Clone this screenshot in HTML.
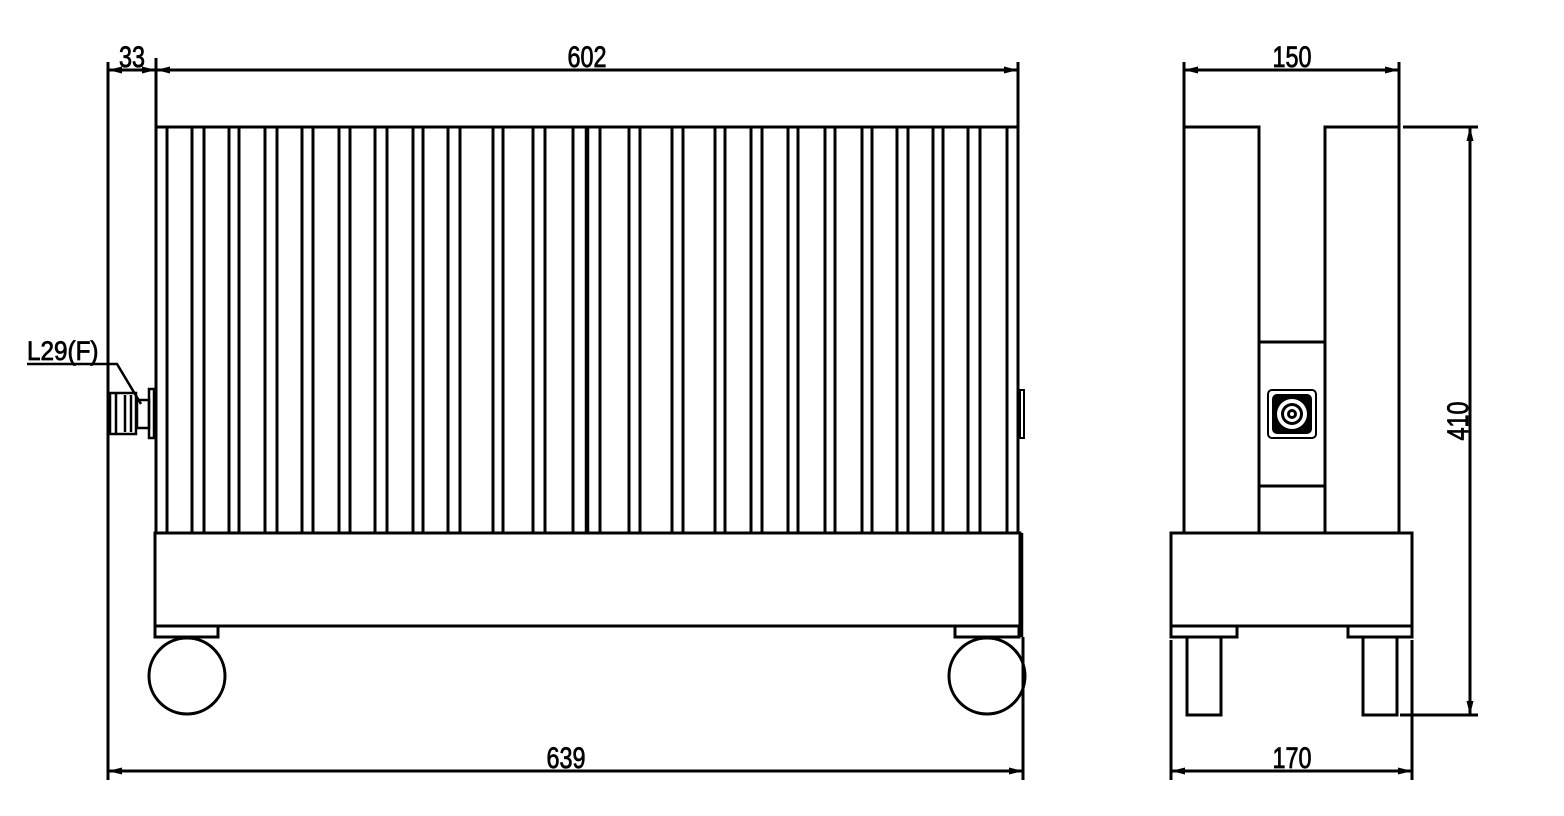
<!DOCTYPE html>
<html><head><meta charset="utf-8"><style>
html,body{margin:0;padding:0;background:#fff;}
svg{display:block;}
text{font-family:"Liberation Sans",sans-serif;font-size:30px;fill:#000;stroke:#000;stroke-width:0.8;}
</style></head><body>
<svg width="1564" height="816" viewBox="0 0 1564 816" xmlns="http://www.w3.org/2000/svg">
<g stroke="#000" stroke-width="3" fill="none">
<line x1="155" y1="127" x2="1019" y2="127"/>
<g>
<line x1="156" y1="127" x2="156" y2="533"/>
<line x1="167" y1="127" x2="167" y2="533"/><line x1="192" y1="127" x2="192" y2="533"/>
<line x1="204" y1="127" x2="204" y2="533"/><line x1="229" y1="127" x2="229" y2="533"/>
<line x1="239" y1="127" x2="239" y2="533"/><line x1="265" y1="127" x2="265" y2="533"/>
<line x1="277" y1="127" x2="277" y2="533"/><line x1="302" y1="127" x2="302" y2="533"/>
<line x1="313" y1="127" x2="313" y2="533"/><line x1="339" y1="127" x2="339" y2="533"/>
<line x1="350" y1="127" x2="350" y2="533"/><line x1="375" y1="127" x2="375" y2="533"/>
<line x1="387" y1="127" x2="387" y2="533"/><line x1="413" y1="127" x2="413" y2="533"/>
<line x1="423" y1="127" x2="423" y2="533"/><line x1="448" y1="127" x2="448" y2="533"/>
<line x1="460" y1="127" x2="460" y2="533"/><line x1="493" y1="127" x2="493" y2="533"/>
<line x1="503" y1="127" x2="503" y2="533"/><line x1="533" y1="127" x2="533" y2="533"/>
<line x1="545" y1="127" x2="545" y2="533"/><line x1="573" y1="127" x2="573" y2="533"/>
<line x1="587" y1="127" x2="587" y2="533" stroke-width="4.5"/>
<line x1="600" y1="127" x2="600" y2="533"/><line x1="629" y1="127" x2="629" y2="533"/>
<line x1="640" y1="127" x2="640" y2="533"/><line x1="672" y1="127" x2="672" y2="533"/>
<line x1="683" y1="127" x2="683" y2="533"/><line x1="715" y1="127" x2="715" y2="533"/>
<line x1="725" y1="127" x2="725" y2="533"/><line x1="751" y1="127" x2="751" y2="533"/>
<line x1="762" y1="127" x2="762" y2="533"/><line x1="788" y1="127" x2="788" y2="533"/>
<line x1="798" y1="127" x2="798" y2="533"/><line x1="825" y1="127" x2="825" y2="533"/>
<line x1="835" y1="127" x2="835" y2="533"/><line x1="862" y1="127" x2="862" y2="533"/>
<line x1="872" y1="127" x2="872" y2="533"/><line x1="897" y1="127" x2="897" y2="533"/>
<line x1="908" y1="127" x2="908" y2="533"/><line x1="933" y1="127" x2="933" y2="533"/>
<line x1="943" y1="127" x2="943" y2="533"/><line x1="968" y1="127" x2="968" y2="533"/>
<line x1="980" y1="127" x2="980" y2="533"/><line x1="1007" y1="127" x2="1007" y2="533"/>
<line x1="1018" y1="127" x2="1018" y2="533"/>
</g>
<rect x="155" y="533" width="865" height="93"/>
<line x1="1021" y1="533" x2="1021" y2="637" stroke-width="4.5"/>
<rect x="1020" y="390" width="4" height="48" stroke-width="2"/>
<rect x="155" y="626" width="63" height="11"/>
<rect x="955" y="626" width="64" height="11"/>
<circle cx="187" cy="676" r="38"/>
<circle cx="987" cy="676" r="38"/>
<rect x="149" y="389" width="5" height="49" stroke-width="2.5"/>
<path d="M137 400 L149 400 L149 428 L137 428 Z" stroke-width="2.5"/>
<rect x="110" y="393" width="26" height="41" stroke-width="2.5"/>
<line x1="116" y1="393" x2="116" y2="434" stroke-width="2.5"/>
<line x1="125" y1="395" x2="125" y2="432" stroke-width="2.5"/>
<line x1="131" y1="395" x2="131" y2="432" stroke-width="2.5"/>
<polyline points="27,364 117,364 141,404" stroke-width="2.5"/>
<line x1="108" y1="62" x2="108" y2="780"/>
<line x1="156" y1="58" x2="156" y2="127"/>
<line x1="1018" y1="62" x2="1018" y2="127"/>
<line x1="1023" y1="637" x2="1023" y2="780"/>
<line x1="108" y1="70" x2="1018" y2="70"/>
<line x1="108" y1="771" x2="1023" y2="771"/>
<rect x="1184" y="127" width="75" height="406"/>
<rect x="1325" y="127" width="74" height="406"/>
<rect x="1259" y="342" width="66" height="144"/>
<rect x="1171" y="533" width="241" height="93"/>
<rect x="1171" y="626" width="66" height="11"/>
<rect x="1348" y="626" width="64" height="11"/>
<rect x="1187" y="637" width="34" height="78"/>
<rect x="1363" y="637" width="34" height="78"/>
<line x1="1171" y1="640" x2="1171" y2="780"/>
<line x1="1412" y1="640" x2="1412" y2="780"/>
<line x1="1171" y1="771" x2="1412" y2="771"/>
<line x1="1184" y1="62" x2="1184" y2="127"/>
<line x1="1399" y1="62" x2="1399" y2="127"/>
<line x1="1184" y1="70" x2="1399" y2="70"/>
<line x1="1403" y1="127" x2="1478" y2="127"/>
<line x1="1400" y1="715" x2="1478" y2="715"/>
<line x1="1470" y1="127" x2="1470" y2="715"/>
<rect x="1268" y="390" width="48" height="48" rx="4" stroke-width="2"/>
</g>
<rect x="1272" y="394" width="40" height="40" rx="5" fill="#000"/>
<circle cx="1292" cy="414" r="15" fill="#fff"/>
<circle cx="1292" cy="414" r="11" fill="#000"/>
<circle cx="1292" cy="414" r="8" fill="#fff"/>
<circle cx="1292" cy="414" r="5" fill="#000"/>
<circle cx="1292" cy="414" r="2" fill="#fff"/>
<g fill="#000">
<polygon points="108,70 122,66.5 122,73.5"/><polygon points="156,70 142,66.5 142,73.5"/>
<polygon points="156,70 170,66.5 170,73.5"/><polygon points="1018,70 1004,66.5 1004,73.5"/>
<polygon points="108,771 122,767.5 122,774.5"/><polygon points="1023,771 1009,767.5 1009,774.5"/>
<polygon points="1184,70 1198,66.5 1198,73.5"/><polygon points="1399,70 1385,66.5 1385,73.5"/>
<polygon points="1171,771 1185,767.5 1185,774.5"/><polygon points="1412,771 1398,767.5 1398,774.5"/>
<polygon points="1470,127 1466.5,141 1473.5,141"/><polygon points="1470,715 1466.5,701 1473.5,701"/>
</g>
<text x="132" y="67" text-anchor="middle" transform="translate(132 0) scale(0.78 1) translate(-132 0)">33</text>
<text x="587" y="67" text-anchor="middle" transform="translate(587 0) scale(0.78 1) translate(-587 0)">602</text>
<text x="566" y="768" text-anchor="middle" transform="translate(566 0) scale(0.78 1) translate(-566 0)">639</text>
<text x="1292" y="67" text-anchor="middle" transform="translate(1292 0) scale(0.78 1) translate(-1292 0)">150</text>
<text x="1292" y="768" text-anchor="middle" transform="translate(1292 0) scale(0.78 1) translate(-1292 0)">170</text>
<text x="0" y="0" text-anchor="middle" transform="translate(1468 421) rotate(-90) scale(0.78 1)">410</text>
<text x="27" y="360" style="font-size:27px" transform="translate(27 0) scale(0.9 1) translate(-27 0)">L29(F)</text>
</svg>
</body></html>
